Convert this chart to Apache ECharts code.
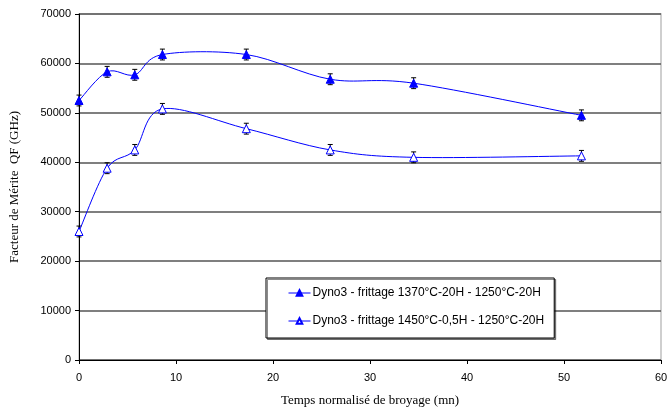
<!DOCTYPE html>
<html>
<head>
<meta charset="utf-8">
<script src="https://cdn.jsdelivr.net/npm/echarts@6/dist/echarts.min.js"></script>
<style>
html,body{margin:0;padding:0;background:#fff;}
#chart{width:671px;height:417px;}
</style>
</head>
<body>
<div id="chart"></div>
<script>
const xValues = [0, 2.9, 5.75, 8.6, 17.25, 25.9, 34.5, 51.8];
const series1Name = 'Dyno3 - frittage 1370°C-20H - 1250°C-20H';
const series2Name = 'Dyno3 - frittage 1450°C-0,5H - 1250°C-20H';
const series1Values = [52500, 58300, 57700, 61800, 61800, 56800, 56000, 49500];
const series2Values = [26000, 38800, 42500, 50800, 46800, 42500, 41000, 41300];
const series1Errors = [1100, 1100, 1100, 1100, 1100, 1100, 1100, 1100];
const series2Errors = [1100, 1100, 1100, 1100, 1100, 1100, 1100, 1100];
const xTitle = 'Temps normalisé de broyage (mn)';
const yTitle = 'Facteur de Mérite  QF (GHz)';

function pairs(xs, ys) { return xs.map((x, i) => [x, ys[i]]); }
function errs(xs, ys, es) { return xs.map((x, i) => [x, ys[i] - es[i], ys[i] + es[i]]); }

function errorRender(params, api) {
  const x = api.value(0), lo = api.value(1), hi = api.value(2);
  const p1 = api.coord([x, hi]);
  const p2 = api.coord([x, lo]);
  const w = 2.5;
  const st = { stroke: '#000', lineWidth: 1 };
  return {
    type: 'group',
    children: [
      { type: 'line', shape: { x1: p1[0], y1: p1[1], x2: p2[0], y2: p2[1] }, style: st },
      { type: 'line', shape: { x1: p1[0] - w, y1: p1[1], x2: p1[0] + w, y2: p1[1] }, style: st },
      { type: 'line', shape: { x1: p2[0] - w, y1: p2[1], x2: p2[0] + w, y2: p2[1] }, style: st }
    ]
  };
}

// Excel-like smoothed line (Catmull-Rom through the points, in pixel space)
function smoothRender(ys) {
  return function (params, api) {
    const i = params.dataIndex;
    const n = xValues.length;
    if (i >= n - 1) return null;
    const P = k => api.coord([xValues[Math.max(0, Math.min(n - 1, k))], ys[Math.max(0, Math.min(n - 1, k))]]);
    const p0 = P(i - 1), p1 = P(i), p2 = P(i + 1), p3 = P(i + 2);
    const t = 1 / 6;
    return {
      type: 'bezierCurve',
      shape: {
        x1: p1[0], y1: p1[1], x2: p2[0], y2: p2[1],
        cpx1: p1[0] + (p2[0] - p0[0]) * t, cpy1: p1[1] + (p2[1] - p0[1]) * t,
        cpx2: p2[0] - (p3[0] - p1[0]) * t, cpy2: p2[1] - (p3[1] - p1[1]) * t
      },
      style: { stroke: '#0000ff', fill: null, lineWidth: 1 }
    };
  };
}

const chart = echarts.init(document.getElementById('chart'), null, { renderer: 'canvas' });
chart.setOption({
  animation: false,
  backgroundColor: '#fff',
  grid: { left: 79, right: 10, top: 14, bottom: 57, show: true, borderColor: '#c0c0c0', borderWidth: 1.5, backgroundColor: 'transparent' },
  xAxis: {
    type: 'value', min: 0, max: 60, interval: 10,
    name: xTitle, nameLocation: 'middle', nameGap: 34,
    nameTextStyle: { fontFamily: 'Liberation Serif', fontSize: 13, color: '#000' },
    axisLine: { show: true, onZero: false, lineStyle: { color: '#000', width: 1 } },
    axisTick: { show: true, length: 4, lineStyle: { color: '#000' } },
    axisLabel: { fontFamily: 'Liberation Sans', fontSize: 11, color: '#000', margin: 12 },
    splitLine: { show: false }
  },
  yAxis: {
    type: 'value', min: 0, max: 70000, interval: 10000,
    name: yTitle, nameLocation: 'middle', nameGap: 58, nameRotate: 90,
    nameTextStyle: { fontFamily: 'Liberation Serif', fontSize: 13, color: '#000' },
    axisLine: { show: true, lineStyle: { color: '#000', width: 1 } },
    axisTick: { show: true, length: 4, inside: false, lineStyle: { color: '#000' } },
    axisLabel: { fontFamily: 'Liberation Sans', fontSize: 11, color: '#000', margin: 8, formatter: v => String(v) },
    splitLine: { show: true, lineStyle: { color: '#555', width: 1.5 } }
  },
  legend: {
    data: [series1Name, series2Name],
    orient: 'vertical',
    left: 266, top: 278,
    padding: [8, 10, 10, 22],
    itemGap: 14,
    itemWidth: 22, itemHeight: 7,
    backgroundColor: '#fff',
    borderColor: '#000', borderWidth: 1,
    shadowColor: 'rgba(0,0,0,0.45)', shadowOffsetX: 1.5, shadowOffsetY: 1.5,
    lineStyle: { color: '#0000ff', width: 1, opacity: 1 },
    textStyle: { fontFamily: 'Liberation Sans', fontSize: 12, lineHeight: 14, color: '#000', padding: [0, 0, 0, -3] }
  },
  series: [
    {
      type: 'custom', name: 'err1', renderItem: errorRender, z: 1,
      data: errs(xValues, series1Values, series1Errors), encode: { x: 0, y: [1, 2] }, silent: true
    },
    {
      type: 'custom', name: 'err2', renderItem: errorRender, z: 1,
      data: errs(xValues, series2Values, series2Errors), encode: { x: 0, y: [1, 2] }, silent: true
    },
    {
      type: 'custom', name: 'curve1', renderItem: smoothRender(series1Values), z: 2,
      data: pairs(xValues, series1Values), encode: { x: 0, y: 1 }, silent: true
    },
    {
      type: 'custom', name: 'curve2', renderItem: smoothRender(series2Values), z: 2,
      data: pairs(xValues, series2Values), encode: { x: 0, y: 1 }, silent: true
    },
    {
      type: 'line', name: series1Name, data: pairs(xValues, series1Values), z: 3,
      symbol: 'triangle', symbolSize: 8, showAllSymbol: true,
      lineStyle: { color: '#0000ff', width: 1, opacity: 0 },
      itemStyle: { color: '#0000ff', borderColor: '#0000ff', borderWidth: 1 }
    },
    {
      type: 'line', name: series2Name, data: pairs(xValues, series2Values), z: 3,
      symbol: 'triangle', symbolSize: 8, showAllSymbol: true,
      lineStyle: { color: '#0000ff', width: 1, opacity: 0 },
      itemStyle: { color: '#ffffff', borderColor: '#0000ff', borderWidth: 1 }
    }
  ]
});
</script>
</body>
</html>
